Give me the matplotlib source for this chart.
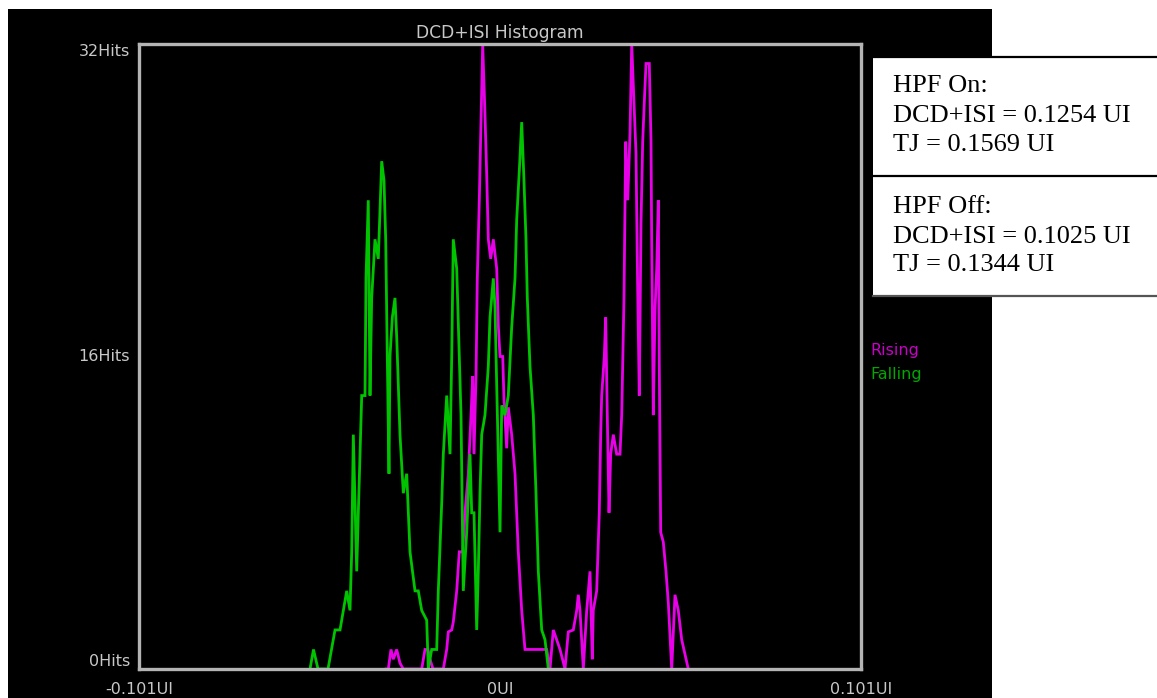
import matplotlib
matplotlib.use("Agg")
import matplotlib.pyplot as plt
from matplotlib.patches import Rectangle
from matplotlib.lines import Line2D
import numpy as np

# ---------------- data (x in milli-UI, y in hits) ----------------
falling_x_mui = [-53.16, -52.18, -50.92, -48.12, -46.16, -44.76, -42.89, -41.97, -41.49, -41.04,
                 -40.09, -39.64, -38.69, -37.77, -37.49, -36.85, -36.37, -35.90, -34.97, -34.05,
                 -33.57, -33.10, -32.45, -31.98, -31.53, -31.06, -30.78, -30.13, -29.38, -28.90,
                 -27.98, -27.05, -26.10, -25.18, -23.78, -22.86, -21.91, -20.51, -20.06, -19.11,
                 -17.71, -17.26, -16.31, -15.86, -14.91, -13.99, -13.51, -13.07, -12.11, -11.39,
                 -10.91, -10.27, -9.32, -8.39, -7.92, -7.27, -6.52, -6.07, -5.60, -5.12,
                 -4.20, -3.27, -2.80, -1.87, -1.40, -0.92, 0.00, 0.48, 1.40, 2.32,
                 3.27, 4.20, 4.67, 5.40, 6.07, 6.71, 7.27, 7.64, 8.39, 9.32,
                 10.07, 10.72, 11.67, 12.59, 13.51]
falling_hits = [0, 1, 0, 0, 2, 2, 4, 3, 6, 12,
                5, 8, 14, 14, 20, 24, 14, 19, 22, 21,
                23.5, 26, 25, 22, 16, 10, 16, 18, 19, 17,
                12, 9, 10, 6, 4, 4, 3, 2.5, 0, 1,
                1, 4, 8.5, 11, 14, 11, 16, 22, 20.5, 16,
                13, 4, 7, 11, 8, 8, 2, 5, 9, 12,
                13, 15.5, 18, 20, 18.5, 14.5, 7, 13.5, 13, 14,
                17.5, 20, 23, 25.5, 28, 25, 22, 19, 15.5, 13,
                9, 5, 2, 1.5, 0]

rising_x_mui = [-31.89, -31.25, -30.50, -29.85, -28.90, -27.98, -27.05, -21.91, -20.98, -20.14,
                -19.58, -18.75, -15.86, -14.91, -14.46, -13.51, -13.07, -12.11, -11.39, -10.44,
                -9.79, -8.87, -8.11, -7.64, -7.27, -6.71, -6.35, -5.79, -5.32, -4.84,
                -4.20, -3.72, -3.27, -2.60, -1.87, -0.92, -0.48, 0.00, 0.76, 1.12,
                1.87, 2.32, 3.27, 4.20, 5.12, 6.07, 6.99, 13.07, 13.99, 14.91,
                15.86, 16.79, 18.19, 19.11, 20.51, 21.46, 21.91, 22.38, 23.31, 24.26,
                25.18, 25.82, 26.10, 27.05, 27.78, 28.17, 28.45, 29.18, 29.57, 30.02,
                30.50, 30.97, 31.70, 32.65, 33.57, 34.05, 34.69, 35.17, 35.73, 36.37,
                36.85, 37.49, 38.05, 38.53, 38.97, 39.45, 39.92, 40.37, 40.85, 41.77,
                42.25, 42.44, 42.89, 43.37, 43.84, 44.29, 44.57, 44.96, 45.69, 46.44,
                47.09, 48.04, 48.96, 49.88, 50.84, 52.68]
rising_hits = [0, 0, 1, 0.5, 1, 0.3, 0, 0, 1, 1,
               0.5, 0, 0, 1, 1.9, 2, 2.4, 4, 6, 6,
               8, 10, 13, 15, 11, 15, 20, 24, 28, 32,
               28.4, 25.3, 22, 21, 22, 20.5, 17.6, 16, 16, 13.8,
               11.3, 13.4, 12, 10, 6, 3, 1, 1, 0, 2,
               1.5, 1, 0, 1.9, 2, 3, 3.8, 3, 0, 3,
               5, 0.5, 3, 4, 8, 12, 14, 16, 18, 13,
               8, 11, 12, 11, 11, 13, 19, 27, 24, 27.4,
               32, 29, 26.4, 19.3, 14, 22.8, 27, 29, 31, 31,
               27, 22, 13, 18.4, 20.5, 24, 15.5, 7, 6.5, 5,
               3.4, 0, 3.8, 3, 1.5, 0]

x_tick_values = [-0.101, 0.0, 0.101]
x_tick_labels = ["-0.101UI", "0UI", "0.101UI"]
y_tick_values = [0, 16, 32]
y_tick_labels = ["0Hits", "16Hits", "32Hits"]
series_names = ["Rising", "Falling"]
box_on = ["HPF On:", "DCD+ISI = 0.1254 UI", "TJ = 0.1569 UI"]
box_off = ["HPF Off:", "DCD+ISI = 0.1025 UI", "TJ = 0.1344 UI"]
title = "DCD+ISI Histogram"

# ---------------- layout ----------------
W, H = 1157, 698
fig = plt.figure(figsize=(W / 100, H / 100), dpi=100, facecolor="white")

def fx(px):
    return px / W

def fy(py):
    return 1 - py / H

# black background panel
fig.add_artist(Rectangle((fx(8), fy(698)), fx(992) - fx(8), fy(9) - fy(698),
                         transform=fig.transFigure, facecolor="black", edgecolor="none", zorder=0))

ax = fig.add_axes([fx(139), fy(669), fx(861) - fx(139), fy(44) - fy(669)])
ax.set_facecolor("black")
ax.set_zorder(1)

MAG = "#e800e8"
GRN = "#00c400"
rx = np.array(rising_x_mui) / 1000.0
fx_ = np.array(falling_x_mui) / 1000.0
ax.plot(rx, rising_hits, color=MAG, lw=2.0, solid_joinstyle="miter", zorder=2)
ax.plot(fx_, falling_hits, color=GRN, lw=2.0, solid_joinstyle="miter", zorder=3)

ax.set_xlim(-0.101, 0.101)
ax.set_ylim(0, 32)
for s in ax.spines.values():
    s.set_color("#b4b4b4")
    s.set_linewidth(2.4)
    s.set_zorder(5)

LBL = "#c8c8c8"
ax.set_xticks(x_tick_values)
ax.set_xticklabels(x_tick_labels)
ax.set_yticks(y_tick_values)
ax.set_yticklabels(y_tick_labels)
ax.tick_params(axis="both", length=0, colors=LBL, labelsize=11.5)
ax.tick_params(axis="x", pad=9)
ax.tick_params(axis="y", pad=6.5)
for t, va in zip(ax.get_yticklabels(), ["bottom", "center", "top"]):
    t.set_va(va)

fig.text(fx(500), fy(33), title, color=LBL, fontsize=12.3, ha="center", va="center")

fig.text(fx(870), fy(350), series_names[0], color="#c800c8", fontsize=11.5, ha="left", va="center")
fig.text(fx(870), fy(374), series_names[1], color="#00a800", fontsize=11.5, ha="left", va="center")

# white info box
fig.add_artist(Rectangle((fx(873), fy(296)), fx(1157) - fx(873), fy(57) - fy(296),
                         transform=fig.transFigure, facecolor="white", edgecolor="none", zorder=6))
for py, c in [(57, "black"), (176, "black"), (296, "#555555")]:
    fig.add_artist(Line2D([fx(873), fx(1157)], [fy(py), fy(py)], transform=fig.transFigure,
                          color=c, lw=1.6, zorder=7))

serif = ["Liberation Serif", "DejaVu Serif"]
for lines, bases in [(box_on, [92, 122, 151]), (box_off, [213, 243, 271])]:
    for txt, b in zip(lines, bases):
        fig.text(fx(893), fy(b), txt, family=serif, fontsize=19, color="black",
                 ha="left", va="baseline", zorder=8)

fig.savefig("out.png", dpi=100, facecolor="white")
